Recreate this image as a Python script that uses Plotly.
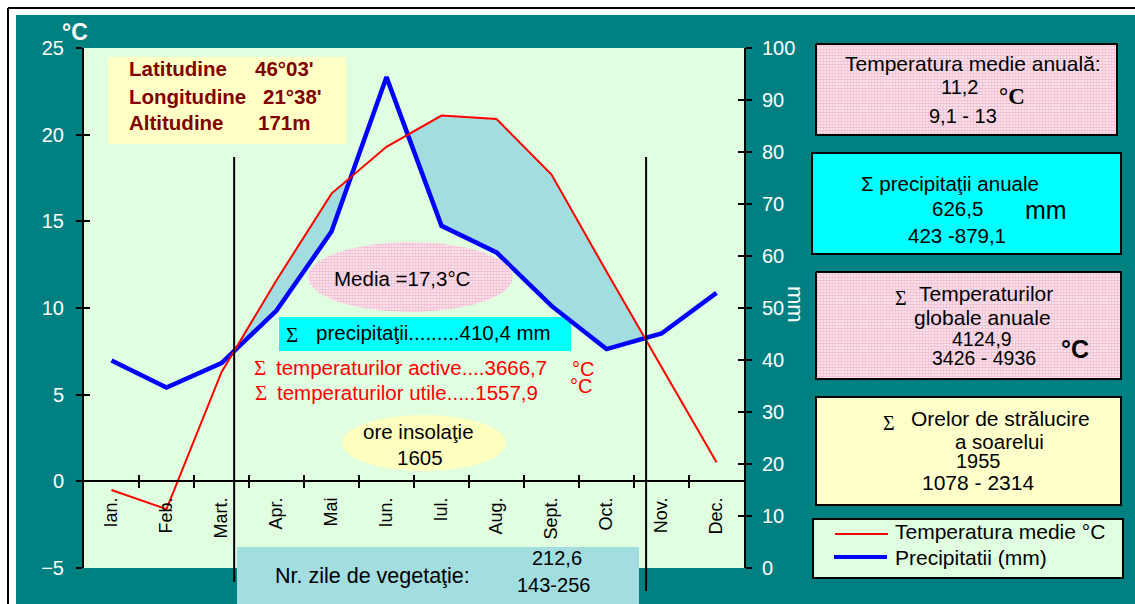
import math
import plotly.graph_objects as go

W, H = 1135, 604

# ---------------- data ----------------
months = ["Ian.", "Feb.", "Mart.", "Apr.", "Mai", "Iun.", "Iul.", "Aug.", "Sept.", "Oct.", "Nov.", "Dec."]
temp_c = [-0.5, -1.6, 6.3, 11.6, 16.6, 19.3, 21.1, 20.9, 17.7, 12.1, 6.6, 1.1]
precip_mm = [39.9, 34.7, 39.4, 49.5, 64.7, 94.4, 65.8, 60.7, 50.4, 42.1, 45.1, 52.9]
temp_range = [-5, 25]
temp_ticks = [-5, 0, 5, 10, 15, 20, 25]
precip_range = [0, 100]
precip_ticks = [0, 10, 20, 30, 40, 50, 60, 70, 80, 90, 100]
veg_start, veg_end = 2.23, 9.72   # vegetation period limits (month index units)

SANS = "Arial, Liberation Sans, sans-serif"
SERIF = "Times New Roman, Liberation Serif, serif"
TEAL = "#008080"
PLOTBG = "#E0FFE0"
FILL = "#A2DDE0"


def px(x):
    return x / W


def py(y):
    return 1 - y / H


xs = list(range(len(months)))


def t_to_mm(t):
    return (t - temp_range[0]) * (precip_range[1] - precip_range[0]) / (temp_range[1] - temp_range[0]) + precip_range[0]


tm = [t_to_mm(t) for t in temp_c]
d = [a - b for a, b in zip(tm, precip_mm)]

polys = []
cur = None
for i in range(len(xs)):
    if d[i] > 0:
        if cur is None:
            cur = {"top": [], "bot": []}
            if i > 0:
                f = d[i - 1] / (d[i - 1] - d[i])
                xc = i - 1 + f
                yc = precip_mm[i - 1] + f * (precip_mm[i] - precip_mm[i - 1])
                cur["top"].append((xc, yc))
        cur["top"].append((i, tm[i]))
        cur["bot"].append((i, precip_mm[i]))
    else:
        if cur is not None:
            f = d[i - 1] / (d[i - 1] - d[i])
            xc = i - 1 + f
            yc = precip_mm[i - 1] + f * (precip_mm[i] - precip_mm[i - 1])
            cur["top"].append((xc, yc))
            polys.append(cur)
            cur = None
if cur is not None:
    polys.append(cur)

fig = go.Figure()

for p in polys:
    pts = p["top"] + p["bot"][::-1]
    fig.add_trace(go.Scatter(x=[q[0] for q in pts] + [pts[0][0]], y=[q[1] for q in pts] + [pts[0][1]],
                             xaxis="x", yaxis="y", mode="lines", fill="toself", fillcolor=FILL,
                             line=dict(width=0), hoverinfo="skip", showlegend=False))

fig.add_trace(go.Scatter(x=xs, y=precip_mm, xaxis="x", yaxis="y", mode="lines",
                         line=dict(color="#0000FF", width=4.5), name="Precipitatii (mm)", showlegend=False))
fig.add_trace(go.Scatter(x=xs, y=temp_c, xaxis="x", yaxis="y2", mode="lines",
                         line=dict(color="#FF0000", width=2), name="Temperatura medie °C", showlegend=False))

# ---- patterned (pink dotted) decorations on a full-page helper axis ----
PAT = dict(shape=".", fgcolor="#E58AAE", bgcolor="#FCEEF3", size=3, solidity=0.6)


def pat_rect(x0, y0, x1, y1):
    fig.add_trace(go.Scatter(x=[x0, x1, x1, x0, x0], y=[y0, y0, y1, y1, y0], xaxis="x9", yaxis="y9",
                             mode="lines", fill="toself", fillcolor="#F4D0DC", fillpattern=PAT,
                             line=dict(color="black", width=2), hoverinfo="skip", showlegend=False))


pat_rect(816, 44, 1117, 135)
pat_rect(816, 272, 1121, 379)
n = 80
ecx, ecy, erx, ery = 410.5, 277, 102.5, 35
fig.add_trace(go.Scatter(x=[ecx + erx * math.cos(2 * math.pi * k / n) for k in range(n + 1)],
                         y=[ecy + ery * math.sin(2 * math.pi * k / n) for k in range(n + 1)],
                         xaxis="x9", yaxis="y9", mode="lines", fill="toself", fillcolor="#F4D0DC",
                         fillpattern=PAT, line=dict(width=0), hoverinfo="skip", showlegend=False))

# ---------------- shapes ----------------
shapes = []


def rect(x0, y0, x1, y1, fill, lw=0, layer="below"):
    shapes.append(dict(type="rect", xref="paper", yref="paper", x0=px(x0), x1=px(x1), y0=py(y1), y1=py(y0),
                       fillcolor=fill, line=dict(color="black", width=lw), layer=layer))


def pline(x0, y0, x1, y1, color="black", w=2, layer="below"):
    shapes.append(dict(type="line", xref="paper", yref="paper", x0=px(x0), x1=px(x1), y0=py(y0), y1=py(y1),
                       line=dict(color=color, width=w), layer=layer))


pline(8, 604, 8, 8)
pline(8, 8, 1135, 8)
rect(16, 15, 1135, 604, TEAL)
rect(84, 48, 744, 568, PLOTBG)
rect(108, 57, 346, 144, "#FFFFC6")
rect(812, 153, 1121, 254, "#00FFFF", lw=2)
rect(816, 397, 1121, 505, "#FFFFCC", lw=2)
rect(813, 519, 1123, 578, PLOTBG, lw=2)
pline(835, 534, 888, 534, "#FF0000", 2)
pline(834, 557, 887, 557, "#0000FF", 4)
rect(279, 317, 571, 351, "#00FFFF")
shapes.append(dict(type="circle", xref="paper", yref="paper", x0=px(342), x1=px(506), y0=py(471), y1=py(415),
                   fillcolor="#FFFFC0", line=dict(width=0), layer="below"))
rect(237, 547, 639, 604, FILL)
for xv, yb in ((veg_start, 582), (veg_end, 591)):
    shapes.append(dict(type="line", xref="x", yref="paper", x0=xv, x1=xv, y0=py(yb), y1=py(157),
                       line=dict(color="black", width=2), layer="above"))

# ---------------- annotations ----------------
ann = []


def txt(x, y, s, size=19, color="black", anchor="center", family=SANS, bold=False, angle=0):
    ann.append(dict(xref="paper", yref="paper", x=px(x), y=py(y), text=("<b>%s</b>" % s) if bold else s,
                    showarrow=False, xanchor=anchor, yanchor="middle", textangle=angle,
                    font=dict(family=family, size=size, color=color)))


txt(75, 32, "°C", 23, "white", bold=True)
txt(796, 304, "mm", 22, "white", angle=90)

DR = "#800000"
txt(127, 69, "Latitudine", 20.5, DR, "left", bold=True)
txt(253, 69, "46°03'", 20.5, DR, "left", bold=True)
txt(127, 96, "Longitudine", 20.5, DR, "left", bold=True)
txt(261, 96, "21°38'", 20.5, DR, "left", bold=True)
txt(127, 122, "Altitudine", 20.5, DR, "left", bold=True)
txt(256, 122, "171m", 20.5, DR, "left", bold=True)

# right boxes
txt(973, 63, "Temperatura medie anuală:", 21)
txt(959, 87, "11,2", 20)
txt(1012, 97, "°C", 23, family=SERIF, bold=True)
txt(963, 116, "9,1 - 13", 20)

txt(950, 183, "Σ precipitaţii anuale", 20.5)
txt(957, 208, "626,5", 20.5)
txt(1046, 210, "mm", 25)
txt(957, 235, "423 -879,1", 20.5)

txt(901, 298, "Σ", 20, family=SERIF)
txt(986, 293, "Temperaturilor", 21)
txt(982, 317, "globale anuale", 21)
txt(982, 339, "4124,9", 19.5)
txt(984, 358, "3426 - 4936", 19.5)
txt(1075, 349, "°C", 25, bold=True)

txt(889, 423, "Σ", 20, family=SERIF)
txt(1001, 418, "Orelor de strălucire", 21)
txt(999, 441, "a soarelui", 20.5)
txt(978, 461, "1955", 20)
txt(978, 482, "1078 - 2314", 21)

txt(893, 531, "Temperatura medie °C", 21, anchor="left")
txt(893, 557, "Precipitatii (mm)", 21, anchor="left")

# inside plot
txt(403, 278, "Media =17,3°C", 20.5)
txt(292, 335, "Σ", 21, family=SERIF)
txt(314, 332, "precipitaţii.........410,4 mm", 20.5, anchor="left")
txt(260, 368, "Σ", 21, "#FF0000", family=SERIF)
txt(274, 367, "temperaturilor active....3666,7", 20.5, "#FF0000", "left")
txt(570, 369, "°C", 20, "#FF0000", "left")
txt(261, 393, "Σ", 21, "#FF0000", family=SERIF)
txt(275, 392, "temperaturilor utile.....1557,9", 20.5, "#FF0000", "left")
txt(568, 386, "°C", 20, "#FF0000", "left")
txt(418, 431, "ore insolaţie", 20.5)
txt(420, 457, "1605", 20.5)
txt(273, 576, "Nr. zile de vegetaţie:", 21.5, anchor="left")
txt(557, 558, "212,6", 20)
txt(553, 585, "143-256", 20)

# ---------------- axes ----------------
XD = [px(84), px(744)]
YD = [py(568), py(48)]
xpos = YD[0] + (0 - temp_range[0]) / (temp_range[1] - temp_range[0]) * (YD[1] - YD[0])
bounds = [i + 0.5 for i in range(len(months) - 1)]
tickfont_w = dict(family=SANS, size=20, color="white")
common = dict(showgrid=False, zeroline=False, automargin=False)

fig.update_layout(
    width=W, height=H, autosize=False, margin=dict(l=0, r=0, t=0, b=0, pad=0, autoexpand=False),
    paper_bgcolor="white", plot_bgcolor="rgba(0,0,0,0)", showlegend=False,
    xaxis=dict(domain=XD, range=[-0.5, len(months) - 0.5], tickmode="array", tickvals=xs, ticktext=months,
               ticks="", tickangle=-90, tickfont=dict(family=SANS, size=18, color="black"),
               showline=True, linecolor="black", linewidth=2, anchor="free", position=xpos,
               ticklabelstandoff=8, **common),
    xaxis2=dict(overlaying="x", range=[-0.5, len(months) - 0.5], tickmode="array", tickvals=bounds,
                ticks="outside", ticklen=6, tickwidth=2, tickcolor="black", showticklabels=False,
                showline=False, anchor="free", position=xpos, **common),
    xaxis3=dict(overlaying="x", range=[-0.5, len(months) - 0.5], tickmode="array", tickvals=bounds,
                ticks="inside", ticklen=6, tickwidth=2, tickcolor="black", showticklabels=False,
                showline=False, anchor="free", position=xpos, **common),
    yaxis=dict(domain=YD, range=precip_range, tickmode="array", tickvals=precip_ticks, side="right",
               anchor="x", ticks="outside", ticklen=6, tickwidth=2, tickcolor="black",
               showline=True, linecolor="black", linewidth=2, tickfont=tickfont_w,
               ticklabelstandoff=6, **common),
    yaxis2=dict(overlaying="y", range=temp_range, tickmode="array", tickvals=temp_ticks, side="left",
                anchor="x", ticks="outside", ticklen=6, tickwidth=2, tickcolor="black",
                showline=True, linecolor="black", linewidth=2, tickfont=tickfont_w,
                ticklabelstandoff=8, **common),
    yaxis3=dict(overlaying="y", range=precip_range, tickmode="array", tickvals=precip_ticks, side="right",
                anchor="x", ticks="inside", ticklen=6, tickwidth=2, tickcolor="black",
                showticklabels=False, showline=False, **common),
    yaxis4=dict(overlaying="y", range=temp_range, tickmode="array", tickvals=temp_ticks, side="left",
                anchor="x", ticks="inside", ticklen=6, tickwidth=2, tickcolor="black",
                showticklabels=False, showline=False, **common),
    xaxis9=dict(domain=[0, 1], range=[0, W], visible=False, anchor="y9", fixedrange=True, automargin=False),
    yaxis9=dict(domain=[0, 1], range=[H, 0], visible=False, anchor="x9", fixedrange=True, automargin=False),
    shapes=shapes, annotations=ann,
)

fig.add_trace(go.Scatter(x=[None], y=[None], xaxis="x2", yaxis="y3", showlegend=False, hoverinfo="skip"))
fig.add_trace(go.Scatter(x=[None], y=[None], xaxis="x3", yaxis="y4", showlegend=False, hoverinfo="skip"))

fig.write_html("out.html", config={"displayModeBar": False},
               post_script="document.body.style.margin='0';")
